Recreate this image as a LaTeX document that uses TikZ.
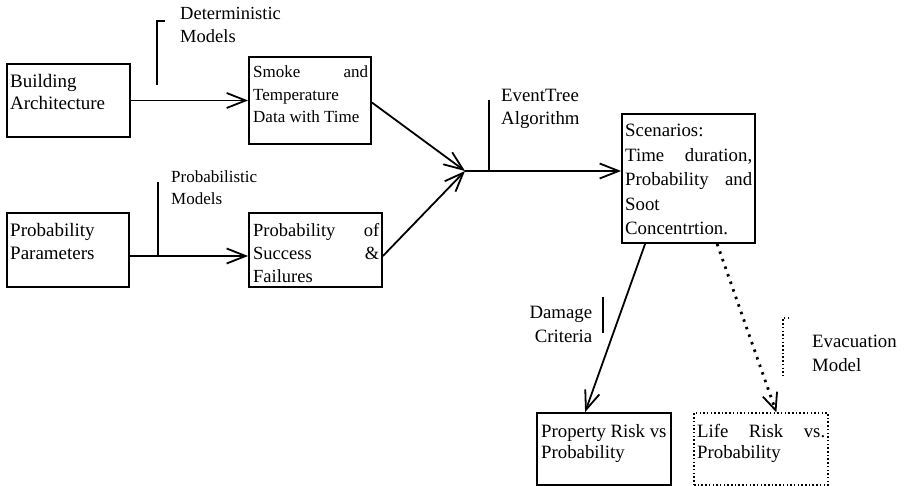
\documentclass[tikz,border=0pt]{standalone}
\usepackage{fontspec}
\setmainfont{Liberation Serif}
\usetikzlibrary{arrows.meta,calc}
\newcommand\boxtxt[4]{\parbox[t]{#3}{\fontsize{#1}{#2}\selectfont #4}}
\tikzset{
  box/.style={draw, line width=1.8pt, inner sep=0pt, rectangle},
  dbox/.style={draw, line width=1.3pt, dash pattern=on 1.5pt off 2.2pt, inner sep=0pt, rectangle},
  lbl/.style={inner sep=0pt, anchor=base west},
  tip/.style={-{Straight Barb[length=19pt,width=15pt,line width=1.8pt]}},
  conn/.style={line width=1.8pt, tip},
  dconn/.style={line width=2.8pt, dash pattern=on 2.5pt off 5.5pt, -{Straight Barb[length=17pt,width=15pt,line width=1.8pt]}},
  brk/.style={line width=1.6pt},
  dbrk/.style={line width=1.2pt, dash pattern=on 1.5pt off 2.2pt},
}
\begin{document}
\begin{tikzpicture}[x=1pt, y=-1pt]
\useasboundingbox (0,0) rectangle (907,486);
% boxes
\node[box, minimum width=123pt, minimum height=73pt] (build) at (68.5,100.5) {};
\node[box, minimum width=122pt, minimum height=87pt] (smoke) at (310,100.5) {};
\node[box, minimum width=122pt, minimum height=74pt] (pp) at (68,250) {};
\node[box, minimum width=133pt, minimum height=74pt] (pos) at (315.5,250) {};
\node[box, minimum width=133pt, minimum height=129pt] (scen) at (688.5,178.5) {};
\node[box, minimum width=134pt, minimum height=72pt] (prop) at (604,449) {};
\node[dbox, minimum width=134pt, minimum height=72pt] (life) at (761,449) {};
\coordinate (junc) at (465,171);
% box texts
\node[lbl] (tbuild) at (10,88) {\boxtxt{19}{22}{115pt}{Building\\Architecture}};
\node[lbl] (tsmoke) at (253,78) {\boxtxt{17}{22.5}{115pt}{Smoke\hfill and\\Temperature\\Data with Time}};
\node[lbl] (tpp) at (10,237) {\boxtxt{19}{22}{115pt}{Probability\\Parameters}};
\node[lbl] (tpos) at (253,237) {\boxtxt{18.5}{22.5}{126pt}{Probability\hfill of\\Success\hfill \&\\Failures}};
\node[lbl] (tscen) at (625,137) {\boxtxt{18.8}{24.5}{127pt}{Scenarios:\\Time\hfill duration,\\Probability\hfill and\\Soot\\Concentrtion.}};
\node[lbl] (tprop) at (541,437) {\boxtxt{18.8}{21}{128pt}{Property Risk vs\\Probability}};
\node[lbl] (tlife) at (697,437) {\boxtxt{18.8}{21}{128pt}{Life\hfill Risk\hfill vs.\\Probability}};
% side labels
\node[lbl] (tdet) at (180,20) {\boxtxt{18.5}{23}{120pt}{Deterministic\\Models}};
\node[lbl] (tprob) at (171,183) {\boxtxt{17}{22}{120pt}{Probabilistic\\Models}};
\node[lbl] (tevt) at (501,102) {\boxtxt{18.8}{23}{120pt}{EventTree\\Algorithm}};
\node[lbl] (tdam) at (529,318) {\boxtxt{18.8}{24}{63pt}{\raggedleft Damage\\Criteria}};
\node[lbl] (tevac) at (812,347) {\boxtxt{18.8}{24}{95pt}{Evacuation\\Model}};
% connectors
\draw[conn] (build.east) -- (build.east -| smoke.west);
\draw[conn] ($(pp.east)+(0,6)$) -- ($(pos.west)+(0,6)$);
\draw[conn] ($(smoke.east)+(0,2)$) -- (junc);
\draw[conn] ($(pos.east)+(0,6)$) -- (junc);
\draw[conn] (junc) -- (junc -| scen.west);
\draw[conn] ($(scen.south west)+(24,0)$) -- ($(prop.north west)+(49,0)$);
\draw[dconn] ($(scen.south west)+(96,0)$) -- ($(life.north west)+(83,0)$);
% brackets
\draw[brk] (165,21) -- (157,21) -- (157,85);
\draw[brk] (158,182) -- (158,256);
\draw[brk] (489,100) -- (489,171);
\draw[brk] (603,297) -- (603,333);
\draw[dbrk] (789,318) -- (783,318) -- (783,375);
\end{tikzpicture}
\end{document}
